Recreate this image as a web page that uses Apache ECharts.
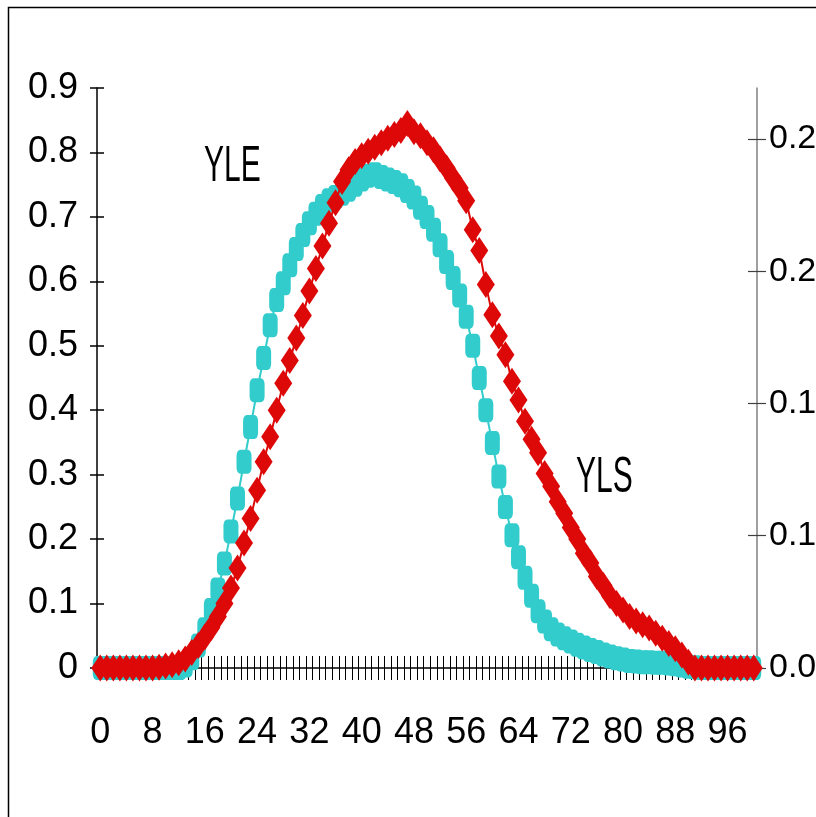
<!DOCTYPE html>
<html>
<head>
<meta charset="utf-8">
<script src="https://cdn.jsdelivr.net/npm/echarts@6/dist/echarts.min.js"></script>
<style>
  html, body { margin: 0; padding: 0; background: #fff; overflow: hidden; }
  #chart { width: 816px; height: 817px; }
</style>
</head>
<body>
<div id="chart"></div>
<script>
const categories = ['0','1','2','3','4','5','6','7','8','9','10','11','12','13','14','15','16','17','18','19','20','21','22','23','24','25','26','27','28','29','30','31','32','33','34','35','36','37','38','39','40','41','42','43','44','45','46','47','48','49','50','51','52','53','54','55','56','57','58','59','60','61','62','63','64','65','66','67','68','69','70','71','72','73','74','75','76','77','78','79','80','81','82','83','84','85','86','87','88','89','90','91','92','93','94','95','96','97','98','99','100'];

const yle = [0,0,0,0,0,0,0,0,0,0,0,0,0,0.004,0.015,0.035,0.060,0.090,0.122,0.162,
  0.212,0.263,0.320,0.374,0.431,0.481,0.532,0.571,0.597,0.625,
  0.650,0.672,0.690,0.705,0.717,0.726,0.731,0.736,0.742,0.750,
  0.758,0.764,0.766,0.762,0.758,0.754,0.749,0.740,0.730,0.714,
  0.700,0.680,0.656,0.630,0.605,0.578,0.545,0.500,0.450,0.400,
  0.349,0.297,0.250,0.206,0.172,0.140,0.112,0.088,0.072,0.060,
  0.052,0.046,0.041,0.036,0.032,0.028,0.025,0.021,0.018,0.015,
  0.013,0.011,0.010,0.009,0.009,0.008,0.008,0.007,0.006,0.004,
  0.002,0.001,0,0,0,0,0,0,0,0,0];

const yls = [0,0,0,0,0,0,0,0,0,0.001,0.003,0.005,0.008,0.014,0.024,0.035,0.048,0.063,0.080,0.100,
  0.124,0.155,0.194,0.232,0.276,0.320,0.359,0.400,0.442,0.477,
  0.512,0.547,0.585,0.620,0.655,0.690,0.722,0.755,0.773,0.786,
  0.795,0.802,0.808,0.815,0.822,0.828,0.834,0.845,0.832,0.826,
  0.815,0.804,0.790,0.776,0.760,0.745,0.725,0.680,0.648,0.595,
  0.548,0.515,0.486,0.445,0.416,0.383,0.355,0.334,0.302,0.282,
  0.258,0.240,0.218,0.200,0.178,0.163,0.142,0.128,0.112,0.100,
  0.090,0.080,0.073,0.067,0.062,0.054,0.046,0.038,0.030,0.020,
  0.009,0,0,0,0,0,0,0,0,0,0];

const rightTickValues = [0.05, 0.10, 0.15, 0.20, 0.25];
const rightTickLabels = ['0.0', '0.1', '0.1', '0.2', '0.2'];
const seriesNames = ['YLE', 'YLS'];

const FONT = "'Liberation Sans', Arial, sans-serif";
const chart = echarts.init(document.getElementById('chart'), null, { renderer: 'canvas' });

function rightLabel(v) {
  const k = rightTickValues.findIndex(t => Math.abs(t - v) < 1e-9);
  return k >= 0 ? rightTickLabels[k] : '';
}

const leftBase = { type: 'value', min: 0, max: 0.9, interval: 0.1, splitLine: { show: false } };
const rightBase = { type: 'value', min: 0.05, max: 0.26928, interval: 0.05, splitLine: { show: false } };

chart.setOption({
  animation: false,
  backgroundColor: '#fff',
  grid: { left: 97, right: 59, top: 88, bottom: 149, containLabel: false, outerBoundsMode: 'none' },
  xAxis: [
    {
      type: 'category', data: categories, boundaryGap: true, position: 'bottom',
      axisLine: { show: true, onZero: false, lineStyle: { color: '#000', width: 1.5 } },
      axisTick: { show: true, inside: false, length: 12, interval: 0, lineStyle: { color: '#000', width: 1 } },
      axisLabel: { interval: 7, margin: 47, fontSize: 36, fontFamily: FONT, color: '#000' },
      splitLine: { show: false }
    },
    {
      type: 'category', data: categories, boundaryGap: true, position: 'bottom',
      axisLine: { show: false, onZero: false },
      axisTick: { show: true, inside: true, length: 12, interval: 0, lineStyle: { color: '#000', width: 1 } },
      axisLabel: { show: false },
      splitLine: { show: false }
    }
  ],
  yAxis: [
    Object.assign({}, leftBase, {
      position: 'left',
      axisLine: { show: true, onZero: false, lineStyle: { color: '#000', width: 1.5 } },
      axisTick: { show: true, inside: false, length: 7, lineStyle: { color: '#000', width: 1.5 } },
      axisLabel: { margin: 19, fontSize: 36, fontFamily: FONT, color: '#000' }
    }),
    Object.assign({}, rightBase, {
      position: 'right',
      axisLine: { show: true, onZero: false, lineStyle: { color: '#808080', width: 1.5 } },
      axisTick: { show: true, inside: false, length: 9, customValues: rightTickValues, lineStyle: { color: '#404040', width: 1.2 } },
      axisLabel: { margin: 12, fontSize: 34, fontFamily: FONT, color: '#000', customValues: rightTickValues, formatter: rightLabel }
    }),
    Object.assign({}, leftBase, {
      position: 'left',
      axisLine: { show: false, onZero: false },
      axisTick: { show: true, inside: true, length: 7, lineStyle: { color: '#000', width: 1.5 } },
      axisLabel: { show: false }
    }),
    Object.assign({}, rightBase, {
      position: 'right',
      axisLine: { show: false, onZero: false },
      axisTick: { show: true, inside: true, length: 9, customValues: rightTickValues, lineStyle: { color: '#404040', width: 1.2 } },
      axisLabel: { show: false }
    })
  ],
  series: [
    {
      name: seriesNames[0], type: 'line', data: yle, xAxisIndex: 0, yAxisIndex: 0,
      symbol: 'roundRect', symbolSize: [15, 24], showAllSymbol: true,
      itemStyle: { color: '#33cccc' }, lineStyle: { color: '#33cccc', width: 2 }, z: 2
    },
    {
      name: seriesNames[1], type: 'line', data: yls, xAxisIndex: 0, yAxisIndex: 0,
      symbol: 'diamond', symbolSize: [18, 27], showAllSymbol: true,
      itemStyle: { color: '#dd0808' }, lineStyle: { color: '#dd0808', width: 2 }, z: 3
    }
  ],
  graphic: [
    { type: 'rect', shape: { x: 8.5, y: 7.5, width: 1000, height: 1000 }, style: { fill: null, stroke: '#000', lineWidth: 1.5 }, silent: true },
    { type: 'text', x: 204, y: 167, scaleX: 0.6, style: { text: seriesNames[0], fontSize: 50, fontFamily: FONT, fill: '#000', textAlign: 'left', textVerticalAlign: 'middle' } },
    { type: 'text', x: 576, y: 478, scaleX: 0.6, style: { text: seriesNames[1], fontSize: 50, fontFamily: FONT, fill: '#000', textAlign: 'left', textVerticalAlign: 'middle' } }
  ]
});
</script>
</body>
</html>
